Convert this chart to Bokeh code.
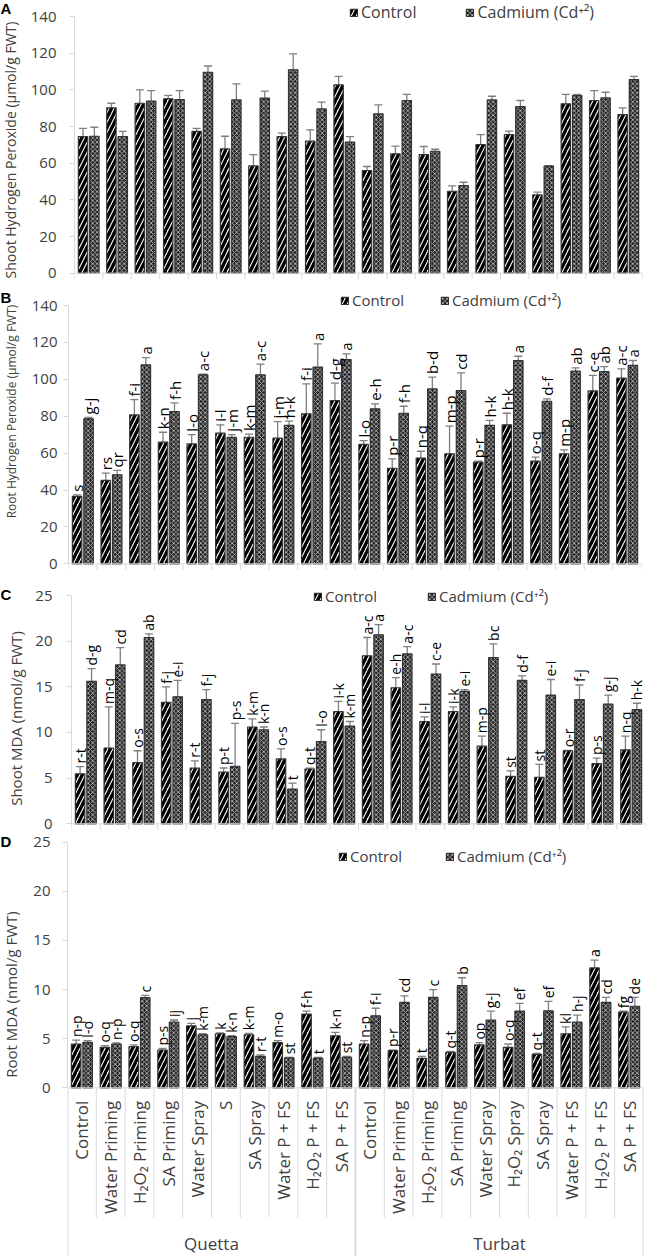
import math
from bokeh.plotting import figure
from bokeh.models import (ColumnDataSource, Range1d, FixedTicker, Whisker, TeeHead,
                          Legend, LegendItem, Span)
from bokeh.layouts import column, row
from bokeh.embed import file_html
from bokeh.resources import INLINE
from bokeh.core.properties import value

# ---------------- data ----------------
sites = ["Quetta", "Turbat"]
quetta_treatments = ["Control", "Water Priming", "H₂O₂ Priming", "SA Priming", "Water Spray",
                     "S", "SA Spray", "Water P + FS", "H₂O₂ P + FS", "SA P + FS"]
turbat_treatments = ["Control", "Water Priming", "H₂O₂ Priming", "SA Priming", "Water Spray",
                     "H₂O₂ Spray", "SA Spray", "Water P + FS", "H₂O₂ P + FS", "SA P + FS"]
series_names = ["Control", "Cadmium (Cd⁺²)"]

# A  Shoot Hydrogen Peroxide
shoot_h2o2_control = [74.5, 90.2, 92.7, 95.1, 77.3, 67.8, 58.5, 74.5, 72.0, 102.7,
                      56.0, 65.1, 64.7, 44.7, 70.2, 75.6, 42.7, 92.4, 94.2, 86.5]
shoot_h2o2_control_se = [4.5, 2.5, 7.3, 1.9, 1.7, 6.9, 6.2, 1.9, 6.2, 4.6,
                         2.2, 4.2, 4.4, 2.9, 5.4, 1.9, 1.5, 5.1, 5.4, 3.7]
shoot_h2o2_cadmium = [74.7, 74.5, 93.8, 94.7, 109.6, 94.5, 95.5, 110.9, 89.6, 71.5,
                      86.9, 94.2, 66.5, 47.8, 94.5, 90.9, 58.4, 96.9, 95.6, 105.6]
shoot_h2o2_cadmium_se = [4.9, 2.8, 5.8, 4.9, 3.4, 8.8, 3.8, 8.7, 3.7, 3.0,
                         4.9, 3.3, 1.1, 1.8, 2.0, 3.3, 0.3, 0.6, 3.1, 1.7]

# B  Root Hydrogen Peroxide
root_h2o2_control = [36.5, 45.2, 80.7, 65.9, 65.0, 70.8, 68.6, 68.1, 81.3, 88.5,
                     64.7, 51.8, 57.3, 59.6, 55.1, 75.3, 55.6, 59.6, 93.7, 100.6]
root_h2o2_control_se = [0.9, 3.9, 8.3, 5.4, 5.0, 4.5, 1.7, 9.0, 16.2, 9.4,
                        2.1, 5.1, 3.7, 15.0, 0.5, 6.3, 2.2, 2.2, 8.4, 5.1]
root_h2o2_cadmium = [78.6, 48.2, 107.8, 82.5, 102.4, 68.5, 102.4, 75.0, 106.6, 110.7,
                     84.0, 81.6, 94.8, 93.9, 75.0, 110.2, 88.1, 104.4, 104.2, 107.5]
root_h2o2_cadmium_se = [0.7, 2.4, 4.0, 4.7, 0.4, 1.5, 5.8, 2.3, 12.6, 3.1,
                        2.7, 3.8, 6.4, 9.6, 2.7, 2.3, 1.3, 1.8, 2.7, 2.7]
root_h2o2_control_letters = ["s", "rs", "f-i", "k-n", "l-o", "i-l", "k-m", "j-m", "f-i", "d-g",
                             "l-o", "p-r", "n-q", "m-p", "p-r", "h-k", "o-q", "m-p", "c-e", "a-c"]
root_h2o2_cadmium_letters = ["g-j", "qr", "a", "f-h", "a-c", "j-m", "a-c", "h-k", "a", "a",
                             "e-h", "f-h", "b-d", "cd", "h-k", "a", "d-f", "ab", "ab", "a"]

# C  Shoot MDA
shoot_mda_control = [5.47, 8.3, 6.7, 13.3, 6.1, 5.66, 10.6, 7.1, 6.0, 12.3,
                     18.4, 14.9, 11.2, 12.3, 8.5, 5.2, 5.1, 8.0, 6.6, 8.1]
shoot_mda_control_se = [0.8, 4.5, 1.3, 1.7, 0.8, 0.45, 0.9, 1.1, 0.1, 1.1,
                        2.0, 1.1, 0.5, 0.5, 1.1, 0.6, 1.4, 0.05, 0.6, 1.5]
shoot_mda_cadmium = [15.6, 17.4, 20.4, 13.9, 13.6, 6.3, 10.3, 3.8, 9.0, 10.7,
                     20.7, 18.6, 16.4, 14.5, 18.2, 15.7, 14.1, 13.6, 13.1, 12.5]
shoot_mda_cadmium_se = [1.4, 1.9, 0.4, 1.8, 1.1, 4.7, 0.3, 0.65, 1.3, 0.5,
                        1.1, 0.8, 1.1, 0.2, 1.5, 0.5, 1.7, 1.6, 1.0, 0.7]
shoot_mda_control_letters = ["r-t", "m-q", "o-s", "f-j", "r-t", "p-t", "k-m", "o-s", "q-t", "i-k",
                             "a-c", "e-h", "i-l", "i-k", "m-p", "st", "st", "o-r", "p-s", "n-q"]
shoot_mda_cadmium_letters = ["d-g", "cd", "ab", "e-i", "f-j", "p-s", "k-n", "t", "l-o", "k-m",
                             "a", "a-c", "c-e", "e-i", "bc", "d-f", "e-i", "f-j", "g-j", "h-k"]

# D  Root MDA
root_mda_control = [4.46, 4.12, 4.19, 3.85, 6.3, 5.5, 5.4, 4.6, 7.5, 5.3,
                    4.46, 3.78, 3.0, 3.6, 4.36, 4.12, 3.4, 5.5, 12.2, 7.7]
root_mda_control_se = [0.4, 0.18, 0.17, 0.15, 0.25, 0.1, 0.15, 0.2, 0.3, 0.34,
                       0.34, 0.07, 0.2, 0.1, 0.24, 0.34, 0.1, 0.7, 0.8, 0.1]
root_mda_cadmium = [4.63, 4.46, 9.19, 6.7, 5.4, 5.2, 3.2, 3.04, 3.0, 3.1,
                    7.33, 8.7, 9.2, 10.4, 6.9, 7.8, 7.84, 6.7, 8.7, 8.3]
root_mda_cadmium_se = [0.17, 0.1, 0.21, 0.2, 0.1, 0.1, 0.15, 0.06, 0.1, 0.1,
                       0.77, 0.66, 0.8, 0.8, 0.9, 0.8, 0.96, 0.7, 0.5, 0.9]
root_mda_control_letters = ["n-p", "o-q", "o-q", "p-s", "j", "k", "k-m", "m-o", "f-h", "k-n",
                            "n-p", "p-r", "t", "q-t", "op", "o-q", "q-t", "kl", "a", "fg"]
root_mda_cadmium_letters = ["l-o", "n-p", "c", "ij", "k-m", "k-n", "r-t", "st", "t", "st",
                            "f-i", "cd", "c", "b", "g-j", "ef", "ef", "h-j", "cd", "de"]

# ---------------- style / layout ----------------
FONT = "Open Sans"
GREY_AXIS = "#d9d9d9"
TEXT_GREY = "#404040"
ERR_GREY = "#7f7f7f"
W = 646          # total width
STRIP = 27       # left strip holding panel letter and axis title

categories = quetta_treatments + turbat_treatments
n_cat = len(categories)
xs = [i + 1 for i in range(n_cat)]
OFF = 0.2
BAR_W = 0.33


def strip_fig(fig_top, fig_h, letter, letter_cy, ylabel, label_cx, label_cy, label_fs):
    s = figure(width=STRIP, height=fig_h, x_range=Range1d(0, STRIP), y_range=Range1d(0, fig_h),
               output_backend="svg", toolbar_location=None, min_border=0,
               x_axis_location=None, y_axis_location=None)
    s.outline_line_color = None
    s.grid.visible = False
    s.text(x=[0], y=[fig_h - (letter_cy - fig_top)], text=[letter], text_align="left",
           text_baseline="middle", text_font=value("Liberation Sans"), text_font_style="bold",
           text_font_size="15px", text_color="black")
    s.text(x=[label_cx], y=[fig_h - (label_cy - fig_top)], text=[ylabel], angle=math.pi / 2,
           text_align="center", text_baseline="middle", text_font=value(FONT),
           text_font_size=label_fs, text_color=TEXT_GREY)
    return s


def panel(letter, ylabel, ymax, ystep, ctrl, ctrl_se, cad, cad_se, ctrl_let, cad_let,
          geo, leg, yl, bottom_labels=False):
    # geo: figure top, line of ymax, line of zero, figure bottom, frame left, frame right
    fig_top, top_line, zero_line, fig_bot, left, right = geo
    fig_h = round(fig_bot - fig_top)
    ppu = (zero_line - top_line) / ymax
    ytop = ymax + (top_line - fig_top) / ppu
    ymin = -(fig_bot - zero_line) / ppu
    p = figure(width=W - STRIP, height=fig_h, x_range=Range1d(0.5, n_cat + 0.5),
               y_range=Range1d(ymin, ytop), output_backend="svg", toolbar_location=None,
               min_border_left=round(left - STRIP), min_border_right=round(W - right),
               min_border_top=0, min_border_bottom=0, x_axis_location=None)
    p.outline_line_color = None
    p.grid.visible = False

    s_ctrl = ColumnDataSource(dict(x=[x - OFF for x in xs], top=ctrl,
                                   upper=[v + e for v, e in zip(ctrl, ctrl_se)],
                                   lower=[v - e for v, e in zip(ctrl, ctrl_se)],
                                   lab=ctrl_let if ctrl_let else [""] * n_cat))
    s_cad = ColumnDataSource(dict(x=[x + OFF for x in xs], top=cad,
                                  upper=[v + e for v, e in zip(cad, cad_se)],
                                  lower=[v - e for v, e in zip(cad, cad_se)],
                                  lab=cad_let if cad_let else [""] * n_cat))
    r1 = p.vbar(x="x", top="top", bottom=0, width=BAR_W, source=s_ctrl,
                fill_color="white", line_color="#333333", line_width=1.2,
                hatch_pattern="/", hatch_color="black", hatch_weight=3.4, hatch_scale=10)
    r2 = p.vbar(x="x", top="top", bottom=0, width=BAR_W, source=s_cad,
                fill_color="#222222", line_color="#333333", line_width=1.2,
                hatch_pattern="x", hatch_color="#d0d0d0", hatch_weight=0.8, hatch_scale=4.5)
    for s in (s_ctrl, s_cad):
        p.add_layout(Whisker(source=s, base="x", upper="upper", lower="lower",
                             line_color=ERR_GREY, line_width=1.3,
                             upper_head=TeeHead(size=8, line_color=ERR_GREY, line_width=1.3),
                             lower_head=TeeHead(size=8, line_color=ERR_GREY, line_width=1.3)))
        if ctrl_let:
            p.text(x="x", y="upper", text="lab", source=s, angle=math.pi / 2,
                   text_align="left", text_baseline="middle", y_offset=-3,
                   text_font=value(FONT), text_font_size=yl["let_fs"], text_color="black")

    # y axis (line limited to the value range)
    p.yaxis.bounds = (0, ymax)
    p.yaxis.ticker = FixedTicker(ticks=[ystep * k for k in range(int(round(ymax / ystep)) + 1)])
    p.yaxis.axis_line_color = GREY_AXIS
    p.yaxis.major_tick_line_color = GREY_AXIS
    p.yaxis.major_tick_out = 5
    p.yaxis.major_tick_in = 0
    p.yaxis.minor_tick_line_color = None
    p.yaxis.major_label_text_font = FONT
    p.yaxis.major_label_text_font_size = "15px"
    p.yaxis.major_label_text_color = TEXT_GREY
    p.yaxis.major_label_standoff = yl["tick_standoff"]

    # category axis line and boundary ticks
    p.add_layout(Span(location=0, dimension="width", line_color=GREY_AXIS, line_width=1))
    bounds_all = [k + 0.5 for k in range(n_cat + 1)]
    if not bottom_labels:
        tick_len = 6 / ppu
        p.segment(x0=bounds_all, y0=[0] * len(bounds_all), x1=bounds_all,
                  y1=[-tick_len] * len(bounds_all), line_color=GREY_AXIS, line_width=1)
    else:
        s_lab = ColumnDataSource(dict(x=xs, y=[0] * n_cat, t=categories))
        p.text(x="x", y="y", text="t", source=s_lab, angle=math.pi / 2, text_align="right",
               text_baseline="middle", y_offset=13, text_font=value(FONT),
               text_font_size="17px", text_color=TEXT_GREY)
        n_q = len(quetta_treatments)
        inner = [b for b in bounds_all if b not in (0.5, n_q + 0.5, n_cat + 0.5)]
        sep_len = 129.7 / ppu
        p.segment(x0=inner, y0=[0] * len(inner), x1=inner, y1=[-sep_len] * len(inner),
                  line_color=GREY_AXIS, line_width=1)
        outer = [0.5, n_q + 0.5, n_cat + 0.5]
        p.segment(x0=outer, y0=[0] * 3, x1=outer, y1=[ymin] * 3,
                  line_color=GREY_AXIS, line_width=2)
        gx = [sum(xs[:n_q]) / n_q, sum(xs[n_q:]) / (n_cat - n_q)]
        p.text(x=gx, y=[0, 0], text=sites, text_align="center", text_baseline="middle",
               y_offset=156, text_font=value(FONT), text_font_size="17px",
               text_color=TEXT_GREY)

    # legend (inside the frame, above the value range)
    lx, lcy, spacing, lfs = leg
    legend = Legend(items=[LegendItem(label=series_names[0], renderers=[r1]),
                           LegendItem(label=series_names[1], renderers=[r2])],
                    orientation="horizontal",
                    location=(round(lx - left), round(fig_bot - lcy - 9)),
                    spacing=spacing, glyph_width=9, glyph_height=9, label_standoff=3,
                    padding=0, margin=0, border_line_color=None, background_fill_alpha=0,
                    label_text_font=FONT, label_text_font_size=lfs,
                    label_text_color=TEXT_GREY, label_height=18)
    p.add_layout(legend)

    s = strip_fig(fig_top, fig_h, letter[0], letter[1], ylabel, yl["cx"], yl["cy"], yl["fs"])
    return row(s, p)


pA = panel(("A", 8), "Shoot Hydrogen Peroxide (µmol/g FWT)", 140, 20,
           shoot_h2o2_control, shoot_h2o2_control_se, shoot_h2o2_cadmium, shoot_h2o2_cadmium_se,
           None, None, (0, 16, 272.7, 284, 71, 642), (346, 14, 49, "16px"),
           dict(fs="14px", cx=10, cy=149.5, tick_standoff=13, let_fs="15px"))
pB = panel(("B", 297), "Root Hydrogen Peroxide (µmol/g FWT)", 140, 20,
           root_h2o2_control, root_h2o2_control_se, root_h2o2_cadmium, root_h2o2_cadmium_se,
           root_h2o2_control_letters, root_h2o2_cadmium_letters,
           (284, 305, 563.3, 578, 68, 641), (340, 301, 36, "15px"),
           dict(fs="12px", cx=11, cy=411, tick_standoff=6, let_fs="15px"))
pC = panel(("C", 594), "Shoot MDA (nmol/g FWT)", 25, 5,
           shoot_mda_control, shoot_mda_control_se, shoot_mda_cadmium, shoot_mda_cadmium_se,
           shoot_mda_control_letters, shoot_mda_cadmium_letters,
           (578, 595, 823.3, 832, 71, 645), (313, 597, 50, "15px"),
           dict(fs="15px", cx=15, cy=718, tick_standoff=14, let_fs="14px"))
pD = panel(("D", 841), "Root MDA (nmol/g FWT)", 25, 5,
           root_mda_control, root_mda_control_se, root_mda_cadmium, root_mda_cadmium_se,
           root_mda_control_letters, root_mda_cadmium_letters,
           (832, 841.7, 1087.3, 1256, 67, 643), (338, 857, 43, "15px"),
           dict(fs="15px", cx=10, cy=994, tick_standoff=12, let_fs="14px"),
           bottom_labels=True)

layout = column(pA, pB, pC, pD)
open("out.html", "w").write(file_html(layout, INLINE))
